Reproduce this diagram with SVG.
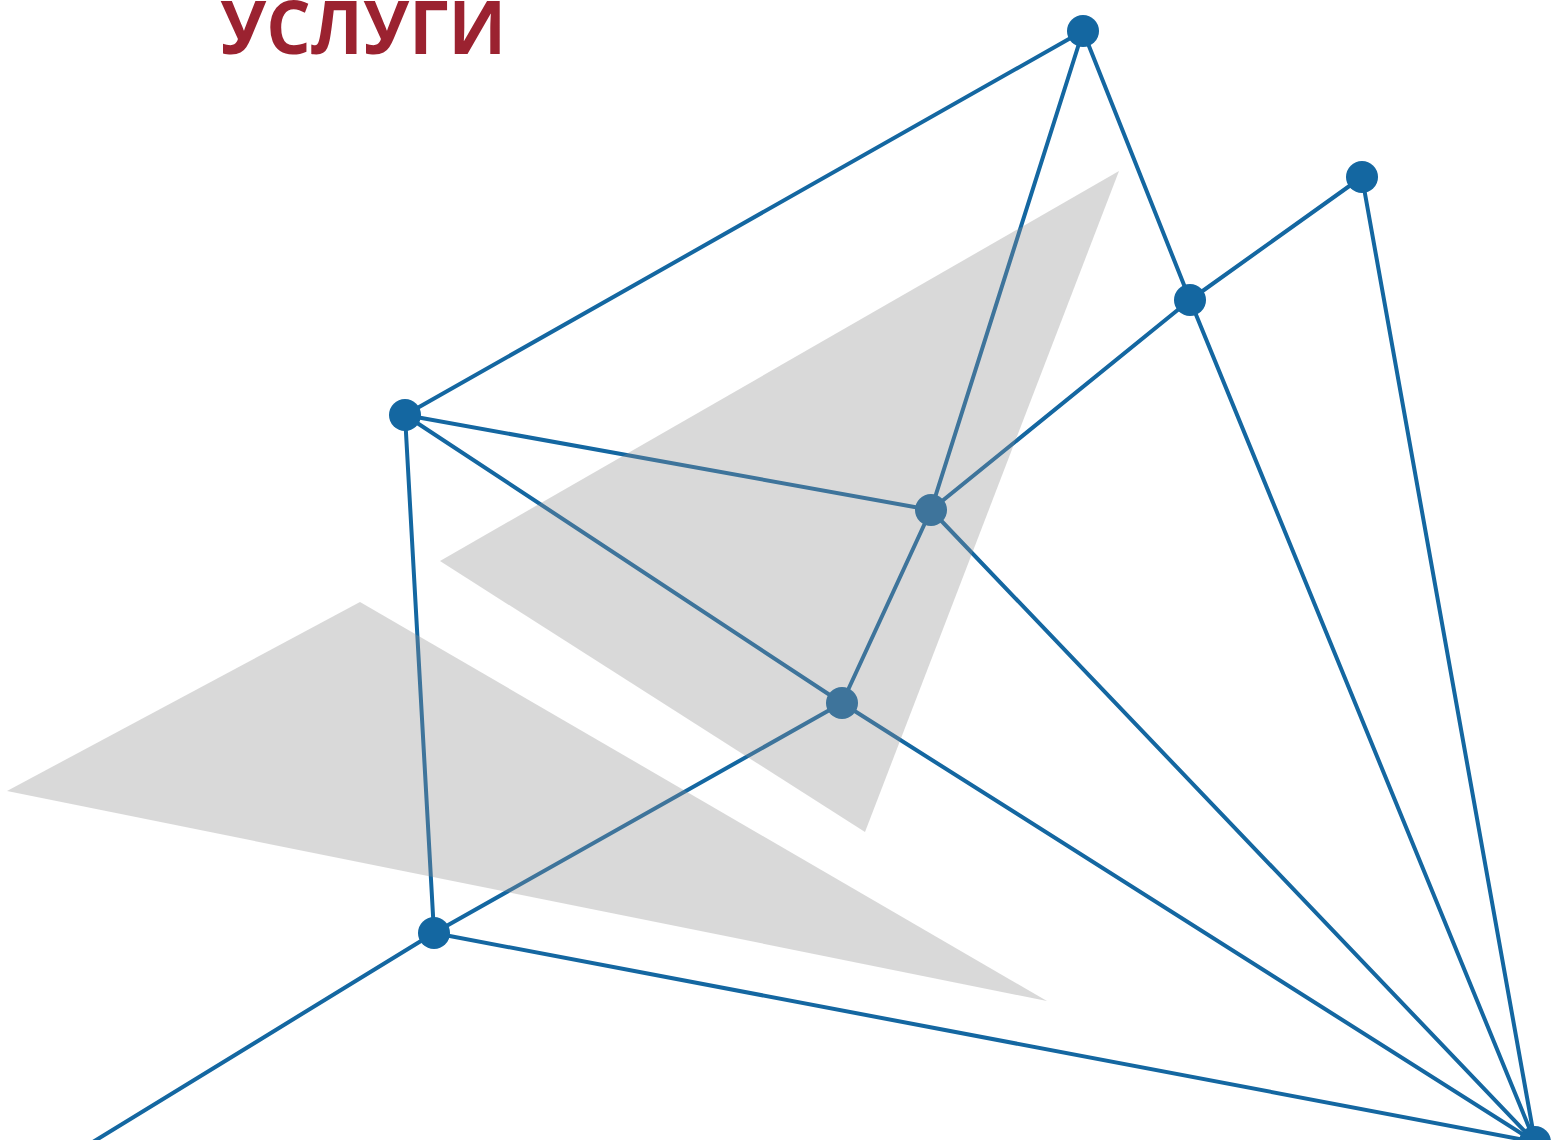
<svg xmlns="http://www.w3.org/2000/svg" width="1556" height="1140" viewBox="0 0 1556 1140">
<style>
.e{stroke:#1467a1;stroke-width:4;fill:none;stroke-linecap:round}
.n{fill:#1467a1}
.sh{fill:#919191;fill-opacity:0.34}
.t{font-family:"Open Sans","Liberation Sans",sans-serif;font-weight:700;font-size:73px;fill:#9b2230}
</style>
<rect width="1556" height="1140" fill="#ffffff"/>
<text class="t" x="220" y="54" textLength="286" lengthAdjust="spacingAndGlyphs">УСЛУГИ</text>
<g id="connectors">
<line class="e" x1="405" y1="415" x2="1083" y2="31"/>
<line class="e" x1="1083" y1="31" x2="931" y2="510"/>
<line class="e" x1="1083" y1="31" x2="1190" y2="300"/>
<line class="e" x1="1190" y1="300" x2="1362" y2="177"/>
<line class="e" x1="1362" y1="177" x2="1535" y2="1142"/>
<line class="e" x1="1190" y1="300" x2="931" y2="510"/>
<line class="e" x1="1190" y1="300" x2="1535" y2="1142"/>
<line class="e" x1="405" y1="415" x2="931" y2="510"/>
<line class="e" x1="405" y1="415" x2="842" y2="703"/>
<line class="e" x1="405" y1="415" x2="434" y2="933"/>
<line class="e" x1="931" y1="510" x2="842" y2="703"/>
<line class="e" x1="931" y1="510" x2="1535" y2="1142"/>
<line class="e" x1="842" y1="703" x2="434" y2="933"/>
<line class="e" x1="842" y1="703" x2="1535" y2="1142"/>
<line class="e" x1="434" y1="933" x2="1535" y2="1142"/>
<line class="e" x1="434" y1="933" x2="88" y2="1145"/>
</g>
<g id="n-a"><circle class="n" cx="1083" cy="31" r="16"/></g>
<g id="n-b"><circle class="n" cx="1362" cy="177" r="16"/></g>
<g id="n-c"><circle class="n" cx="1190" cy="300" r="16"/></g>
<g id="n-d"><circle class="n" cx="405" cy="415" r="16"/></g>
<g id="n-e"><circle class="n" cx="931" cy="510" r="16"/></g>
<g id="n-f"><circle class="n" cx="842" cy="703" r="16"/></g>
<g id="n-g"><circle class="n" cx="434" cy="933" r="16"/></g>
<g id="n-h"><circle class="n" cx="1535" cy="1142" r="16"/></g>
<g id="shading">
<polygon class="sh" points="440,561 1119,171 865,832"/>
<polygon class="sh" points="7,791 360,602 1047,1001"/>
</g>
</svg>
